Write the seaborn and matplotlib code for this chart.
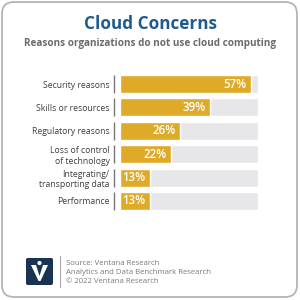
import matplotlib
matplotlib.use("Agg")
import matplotlib.pyplot as plt
import matplotlib.transforms as mtransforms
from matplotlib.patches import FancyBboxPatch, Polygon, Circle
import seaborn as sns
import pandas as pd

categories = ["Security reasons", "Skills or resources", "Regulatory reasons",
              "Loss of control\nof technology", "Integrating/\ntransporting data", "Performance"]
values = [57, 39, 26, 22, 13, 13]
track_max = 60
title = "Cloud Concerns"
subtitle = "Reasons organizations do not use cloud computing"
footer = ["Source: Ventana Research", "Analytics and Data Benchmark Research", "\u00a9 2022 Ventana Research"]

GOLD = "#DEAA27"
TRACK = "#E7E7E9"
BLUE = "#1F5A8E"
GRAY = "#6A6A6A"

sns.set_theme(style="white")
plt.rcParams["font.family"] = ["Open Sans", "DejaVu Sans"]

W = H = 300
fig = plt.figure(figsize=(3, 3), dpi=100)
fig.patch.set_facecolor("white")

def fx(px):
    return px / W

def fy(py):
    return 1 - py / H

# border
fig.patches.append(FancyBboxPatch((fx(2), fy(297)), fx(295), 295 / H,
                                  boxstyle="round,pad=0,rounding_size=0.04",
                                  transform=fig.transFigure, fill=False,
                                  edgecolor="#B4B4B4", linewidth=1.3))

fig.text(0.5, fy(24), title, ha="center", va="center", fontsize=12.3,
         fontweight="bold", color=BLUE)
fig.text(0.5, fy(43.5), subtitle, ha="center", va="center", fontsize=7.1,
         fontweight="bold", color=GRAY)

df = pd.DataFrame({"category": categories, "value": values,
                   "track": [track_max] * len(values)})

top, bottom = 72.3, 212.7
ax = fig.add_axes([fx(120), fy(bottom), fx(258) - fx(120), (bottom - top) / H])
sns.barplot(data=df, y="category", x="track", color=TRACK, width=0.77,
            orient="h", ax=ax, saturation=1)
sns.barplot(data=df, y="category", x="value", color=GOLD, width=0.77,
            orient="h", ax=ax, saturation=1)
ax.set_xlim(0, track_max)
ax.set_ylim(len(categories) - 0.5, -0.5)
ax.set_xlabel("")
ax.set_ylabel("")
ax.set_xticks([])
for s in ax.spines.values():
    s.set_visible(False)
ax.tick_params(axis="y", length=0, pad=7.5)
for lab in ax.get_yticklabels():
    lab.set_fontsize(6.2)
    lab.set_color("#3E3E3E")
    lab.set_linespacing(1.2)

trans = mtransforms.blended_transform_factory(ax.transAxes, ax.transData)
half = 0.77 / 2
for i, v in enumerate(values):
    ax.plot([-0.04, -0.04], [i - half, i + half], color="#777777", lw=1.0,
            transform=trans, clip_on=False, solid_capstyle="butt")
    ax.annotate(f"{v}%", xy=(v, i), xytext=(-3.0, 0), textcoords="offset points",
                ha="right", va="center", color="white", fontsize=8.3,
                fontweight="semibold")

# footer logo
fig.patches.append(FancyBboxPatch((fx(26), fy(285)), fx(27), 27 / H,
                                  boxstyle="round,pad=0,rounding_size=0.006",
                                  transform=fig.transFigure, facecolor="#1B3352",
                                  edgecolor="none"))
vpts = [(31, 265), (36, 265), (39.5, 276), (43, 265), (48, 265), (40.5, 281), (38.5, 281)]
fig.patches.append(Polygon([(fx(x), fy(y)) for x, y in vpts], closed=True,
                           transform=fig.transFigure, facecolor="white", edgecolor="none"))
fig.patches.append(Circle((fx(39.5), fy(263)), 0.007, transform=fig.transFigure,
                          facecolor="white", edgecolor="none"))
fig.add_artist(plt.Line2D([fx(60), fx(60)], [fy(256), fy(287)], color="#AAAAAA",
                          lw=0.8, transform=fig.transFigure))
for k, line in enumerate(footer):
    fig.text(fx(66), fy(263.5 + 9 * k), line, ha="left", va="center",
             fontsize=5.6, color="#7A7A7A")

fig.savefig("out.png", dpi=100, facecolor="white")
